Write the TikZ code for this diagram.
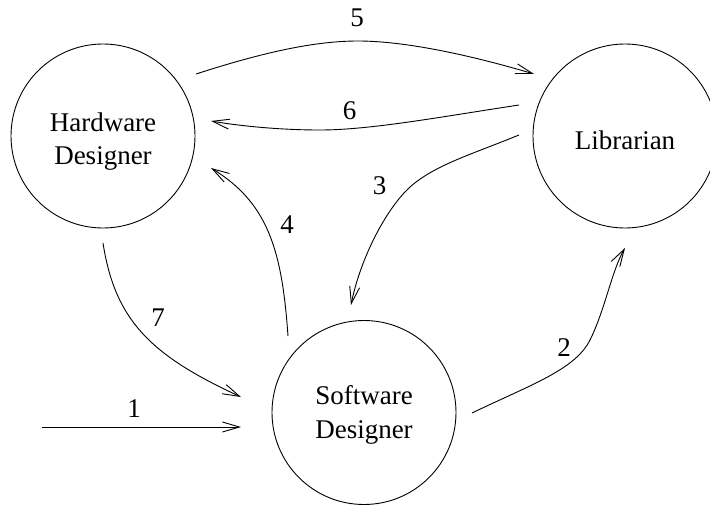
\documentclass[tikz,border=0pt]{standalone}
\usepackage{fontspec}
\setmainfont{Liberation Serif}
\usetikzlibrary{arrows.meta}
\begin{document}
\begin{tikzpicture}[x=1pt,y=-1pt, line width=0.9pt,
  proc/.style={circle,draw,minimum size=184pt,inner sep=0pt},
  lbl/.style={font=\fontsize{27}{32}\selectfont, inner sep=0pt, anchor=base},
  num/.style={font=\fontsize{27}{32}\selectfont, inner sep=0pt},
  flow/.style={-{Straight Barb[length=17pt,width=10pt]}}]
\useasboundingbox (0,0) rectangle (710,506);
\clip (0,0) rectangle (710,506);
% processes
\node[proc] (hw) at (103,136) {};
\node[proc] (lib) at (625,136) {};
\node[proc] (sw) at (364,412.5) {};
\node[lbl] (hwa) at (103,131) {Hardware};
\node[lbl] (hwb) at (103,164) {Designer};
\node[lbl] (liba) at (625,149) {Librarian};
\node[lbl] (swa) at (364,404) {Software};
\node[lbl] (swb) at (364,438) {Designer};
% connector end points
\coordinate (s5) at (196,74);   \coordinate (e5) at (534,74);
\coordinate (s6) at (519,105);  \coordinate (e6) at (211,121);
\coordinate (s3) at (519,135);  \coordinate (e3) at (351,305);
\coordinate (s4) at (288,336);  \coordinate (e4) at (211,168);
\coordinate (s7) at (103,243);  \coordinate (e7) at (241,397);
\coordinate (s2) at (472,413);  \coordinate (e2) at (625,248);
\coordinate (s1) at (42,427);   \coordinate (e1) at (241,427);
% flows
\draw[flow] (s5) .. controls (255,55) and (310,41) .. (358,41)
               .. controls (410,41) and (480,58) .. (e5);
\draw[flow] (s6) .. controls (440,117) and (370,130) .. (320,130)
               .. controls (280,130) and (240,126) .. (e6);
\draw[flow] (s3) .. controls (470,155) and (435,165) .. (410,187)
               .. controls (385,210) and (360,260) .. (e3);
\draw[flow] (s4) .. controls (282,250) and (268,203) .. (e4);
\draw[flow] (s7) .. controls (115,320) and (150,355) .. (e7);
\draw[flow] (s2) .. controls (530,385) and (575,370) .. (590,340)
               .. controls (605,310) and (612,270) .. (e2);
\draw[flow] (s1) -- (e1);
% labels
\node[num] (n5) at (357,17.5) {5};
\node[num] (n6) at (349.5,111) {6};
\node[num] (n3) at (379.5,186) {3};
\node[num] (n4) at (287,224.5) {4};
\node[num] (n7) at (158,318) {7};
\node[num] (n1) at (134,409) {1};
\node[num] (n2) at (564,347.5) {2};
\end{tikzpicture}
\end{document}
